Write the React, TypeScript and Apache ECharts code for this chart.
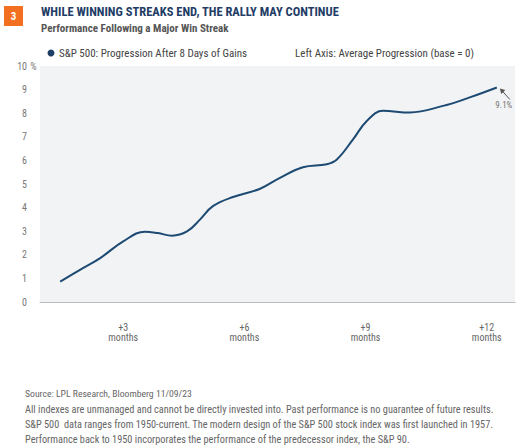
import React, { useEffect, useRef } from "react";
import * as echarts from "echarts";

const TITLE = "WHILE WINNING STREAKS END, THE RALLY MAY CONTINUE";
const SUBTITLE = "Performance Following a Major Win Streak";
const SERIES_NAME = "S&P 500: Progression After 8 Days of Gains";
const AXIS_NOTE = "Left Axis: Average Progression (base = 0)";
const FOOTNOTES = [
  "All indexes are unmanaged and cannot be directly invested into. Past performance is no guarantee of future results.",
  "S&P 500  data ranges from 1950-current. The modern design of the S&P 500 stock index was first launched in 1957.",
  "Performance back to 1950 incorporates the performance of the predecessor index, the S&P 90.",
];
const SOURCE = "Source: LPL Research, Bloomberg 11/09/23";

// months after the streak
const months = [1.44, 1.93, 2.43, 3.0, 3.54, 3.86, 4.21, 4.58, 4.9, 5.22, 5.72, 6.39, 6.88, 7.45, 8.04, 8.29, 8.69, 9.03, 9.43, 10.1, 10.92, 11.58, 12.25];
// average progression (%)
const progression = [0.86, 1.36, 1.86, 2.57, 2.98, 2.92, 2.81, 2.99, 3.49, 4.06, 4.45, 4.8, 5.26, 5.71, 5.84, 6.04, 6.89, 7.67, 8.1, 8.03, 8.31, 8.67, 9.09];
const xTicks = [3, 6, 9, 12];
const yTicks = [0, 1, 2, 3, 4, 5, 6, 7, 8, 9, 10];
const endLabel = "9.1%";

const FONT = "'Liberation Sans Narrow', 'Roboto Condensed', Roboto, sans-serif";

export default function App() {
  const ref = useRef<HTMLDivElement>(null);
  useEffect(() => {
    if (!ref.current) return;
    const chart = echarts.init(ref.current, undefined, { renderer: "svg" });
    const option: any = {
      animation: false,
      textStyle: { fontFamily: FONT },
      grid: {
        left: 40,
        right: 15,
        top: 66,
        bottom: 146,
        show: true,
        backgroundColor: "#f2f3f5",
        borderWidth: 0,
      },
      xAxis: {
        type: "value",
        min: 0.94,
        max: 12.7,
        axisLine: { show: true, lineStyle: { color: "#bcbcbc", width: 1 } },
        axisTick: { show: false },
        splitLine: { show: false },
        axisLabel: {
          customValues: xTicks,
          formatter: (v: number) => `+${v}\nmonths`,
          color: "#666",
          fontSize: 10,
          lineHeight: 10,
          margin: 20,
          fontFamily: FONT,
        },
      },
      yAxis: {
        type: "value",
        min: yTicks[0],
        max: yTicks[yTicks.length - 1],
        interval: 1,
        axisLine: { show: false },
        axisTick: { show: false },
        splitLine: { show: false },
        axisLabel: { color: "#777", fontSize: 10, margin: 13, fontFamily: FONT },
      },
      series: [
        {
          type: "line",
          name: SERIES_NAME,
          data: months.map((m, i) => [m, progression[i]]),
          smooth: 0.4,
          showSymbol: false,
          lineStyle: { color: "#1d4a73", width: 2 },
        },
      ],
    };
    chart.setOption(option);

    const last = chart.convertToPixel({ seriesIndex: 0 }, [months[months.length - 1], progression[progression.length - 1]]) as number[];
    const top10 = chart.convertToPixel({ yAxisIndex: 0 }, 10) as number;
    const tipX = last[0] + 3;
    const tipY = last[1] + 1;
    const graphic: any[] = [
      { type: "rect", shape: { x: 4, y: 6, width: 19, height: 20 }, style: { fill: "#f37021" } },
      { type: "text", x: 13.5, y: 16.5, style: { text: "3", fill: "#fff", font: `bold 11px ${FONT}`, align: "center", verticalAlign: "middle" } },
      { type: "text", x: 41, y: 11, style: { text: TITLE, fill: "#1f3d66", font: `bold 12.5px ${FONT}`, verticalAlign: "middle" } },
      { type: "text", x: 41, y: 28, style: { text: SUBTITLE, fill: "#555", font: `bold 11px ${FONT}`, verticalAlign: "middle" } },
      { type: "circle", shape: { cx: 51, cy: 53, r: 3.5 }, style: { fill: "#1d3f66" } },
      { type: "text", x: 59, y: 53, style: { text: SERIES_NAME, fill: "#444", font: `11px ${FONT}`, verticalAlign: "middle" } },
      { type: "text", x: 295, y: 53, style: { text: AXIS_NOTE, fill: "#444", font: `11px ${FONT}`, verticalAlign: "middle" } },
      { type: "text", x: 28, y: top10, style: { text: " %", fill: "#777", font: `10px ${FONT}`, verticalAlign: "middle" } },
      { type: "line", shape: { x1: tipX + 10, y1: tipY + 11, x2: tipX + 2, y2: tipY + 2 }, style: { stroke: "#555", lineWidth: 1 } },
      { type: "polygon", shape: { points: [[tipX, tipY], [tipX + 5.5, tipY + 1.5], [tipX + 1.5, tipY + 5.5]] }, style: { fill: "#555" } },
      { type: "text", x: tipX + 4, y: tipY + 17, style: { text: endLabel, fill: "#777", font: `9px ${FONT}`, align: "center", verticalAlign: "middle" } },
      { type: "text", x: 25, y: 393, style: { text: SOURCE, fill: "#666", font: `9.7px ${FONT}`, verticalAlign: "middle" } },
      ...FOOTNOTES.map((t, i) => ({ type: "text", x: 25, y: 409 + i * 15.3, style: { text: t, fill: "#666", font: `10.3px ${FONT}`, verticalAlign: "middle" } })),
    ];
    chart.setOption({ graphic });
    return () => chart.dispose();
  }, []);
  return <div ref={ref} style={{ position: "fixed", left: 0, top: 0, width: 530, height: 448, background: "#fff" }} />;
}
